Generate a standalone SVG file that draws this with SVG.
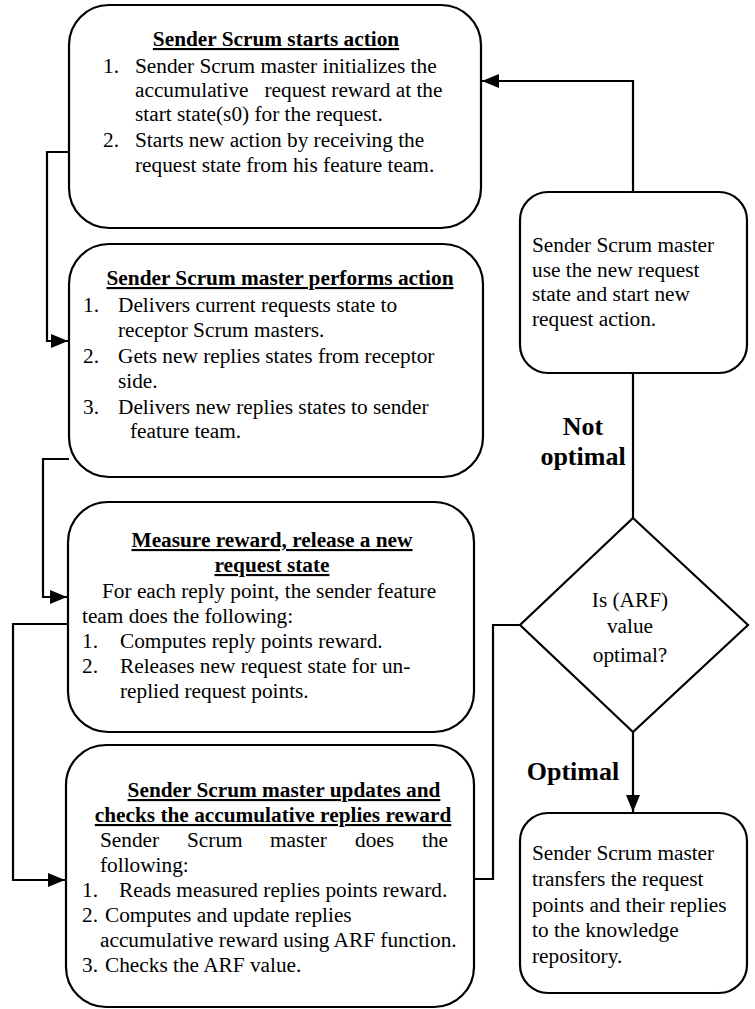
<svg xmlns="http://www.w3.org/2000/svg" width="755" height="1009" viewBox="0 0 755 1009">
<style>
.box{fill:#fff;stroke:#000;stroke-width:2.2}
.t{font-family:"Liberation Serif","Times New Roman",serif;font-size:21.3px;fill:#000}
.h{font-weight:bold;text-decoration:underline;text-anchor:middle}
.lbl{font-family:"Liberation Serif","Times New Roman",serif;font-size:26px;font-weight:bold;text-anchor:middle}
.c{text-anchor:middle}
.ln{fill:none;stroke:#000;stroke-width:2.2}
</style>
<defs>
<marker id="ah" markerUnits="userSpaceOnUse" markerWidth="18" markerHeight="16" refX="17" refY="8" orient="auto" overflow="visible">
<path d="M0,1 L17,8 L0,15 Z" fill="#000"/>
</marker>
</defs>
<g id="connectors">
<polyline class="ln" points="69,152 47,152 47,341 68,341" marker-end="url(#ah)"/>
<polyline class="ln" points="69,459 43,459 43,597 67,597" marker-end="url(#ah)"/>
<polyline class="ln" points="68,624 13,624 13,880 65,880" marker-end="url(#ah)"/>
<polyline class="ln" points="520,625 493,625 493,879 474,879"/>
<polyline class="ln" points="633,192 633,81 482,81" marker-end="url(#ah)"/>
<line class="ln" x1="633" y1="373" x2="633" y2="518"/>
<polyline class="ln" points="633,732 633,812" marker-end="url(#ah)"/>
</g>
<g id="n1">
<rect class="box" x="69" y="5" width="412" height="223" rx="40"/>
<text class="t h" x="276" y="46">Sender Scrum starts action</text>
<text class="t" x="103" y="73">1.</text>
<text class="t" x="135" y="73">Sender Scrum master initializes the</text>
<text class="t" x="135" y="97" xml:space="preserve">accumulative   request reward at the</text>
<text class="t" x="135" y="121">start state(s0) for the request.</text>
<text class="t" x="103" y="147">2.</text>
<text class="t" x="135" y="147">Starts new action by receiving the</text>
<text class="t" x="135" y="172">request state from his feature team.</text>
</g>
<g id="n2">
<rect class="box" x="69" y="244" width="414" height="233" rx="40"/>
<text class="t h" x="280" y="285">Sender Scrum master performs action</text>
<text class="t" x="83" y="312">1.</text>
<text class="t" x="118" y="312">Delivers current requests state to</text>
<text class="t" x="118" y="337">receptor Scrum masters.</text>
<text class="t" x="83" y="363">2.</text>
<text class="t" x="118" y="363">Gets new replies states from receptor</text>
<text class="t" x="118" y="388">side.</text>
<text class="t" x="83" y="414">3.</text>
<text class="t" x="118" y="414">Delivers new replies states to sender</text>
<text class="t" x="130" y="438">feature team.</text>
</g>
<g id="n3">
<rect class="box" x="68" y="502" width="406" height="230" rx="40"/>
<text class="t h" x="272" y="547">Measure reward, release a new</text>
<text class="t h" x="272" y="572">request state</text>
<text class="t" x="102" y="598">For each reply point, the sender feature</text>
<text class="t" x="82" y="623">team does the following:</text>
<text class="t" x="82" y="648">1.</text>
<text class="t" x="120" y="648">Computes reply points reward.</text>
<text class="t" x="82" y="673">2.</text>
<text class="t" x="120" y="673">Releases new request state for un-</text>
<text class="t" x="120" y="698">replied request points.</text>
</g>
<g id="n4">
<rect class="box" x="66" y="745" width="408" height="262" rx="40"/>
<text class="t h" x="284" y="797">Sender Scrum master updates and</text>
<text class="t h" x="273" y="822">checks the accumulative replies reward</text>
<text class="t" y="847"><tspan x="100">Sender</tspan><tspan x="187">Scrum</tspan><tspan x="270">master</tspan><tspan x="355">does</tspan><tspan x="422">the</tspan></text>
<text class="t" x="100" y="872">following:</text>
<text class="t" x="82" y="897">1.</text>
<text class="t" x="119" y="897">Reads measured replies points reward.</text>
<text class="t" x="82" y="922">2.</text>
<text class="t" x="105" y="922">Computes and update replies</text>
<text class="t" x="100" y="947">accumulative reward using ARF function.</text>
<text class="t" x="82" y="972">3.</text>
<text class="t" x="105" y="972">Checks the ARF value.</text>
</g>
<g id="n5">
<rect class="box" x="520" y="192" width="227" height="181" rx="28"/>
<text class="t" x="532" y="252">Sender Scrum master</text>
<text class="t" x="532" y="277">use the new request</text>
<text class="t" x="532" y="301">state and start new</text>
<text class="t" x="532" y="326">request action.</text>
</g>
<g id="n6">
<polygon class="box" points="633,518 748,625 633,732 520,625"/>
<text class="t c" x="630" y="607">Is (ARF)</text>
<text class="t c" x="630" y="633">value</text>
<text class="t c" x="630" y="662">optimal?</text>
</g>
<g id="n7">
<rect class="box" x="520" y="813" width="227" height="180" rx="28"/>
<text class="t" x="532" y="860">Sender Scrum master</text>
<text class="t" x="532" y="886">transfers the request</text>
<text class="t" x="532" y="912">points and their replies</text>
<text class="t" x="532" y="937">to the knowledge</text>
<text class="t" x="532" y="963">repository.</text>
</g>
<g id="labels">
<text class="lbl" x="583" y="435">Not</text>
<text class="lbl" x="583" y="465">optimal</text>
<text class="lbl" x="573" y="780">Optimal</text>
</g>
</svg>
